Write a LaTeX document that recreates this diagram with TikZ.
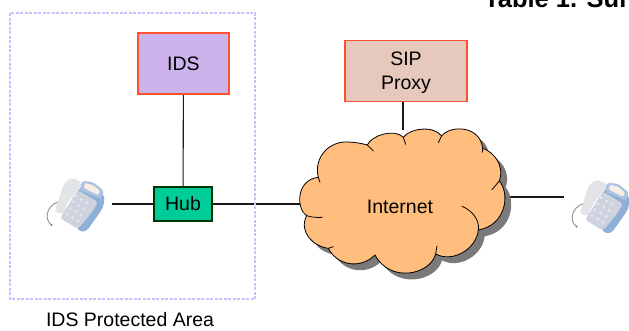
\documentclass[tikz,border=0pt]{standalone}
\usepackage{fontspec}
\setmainfont{Liberation Sans}
\usetikzlibrary{backgrounds}
\definecolor{idsfill}{HTML}{CCB3EC}
\definecolor{sipfill}{HTML}{E6C8BC}
\definecolor{hubfill}{HTML}{00CC99}
\definecolor{redline}{HTML}{FF5030}
\definecolor{cloudfill}{HTML}{FFBE7D}
\definecolor{arealine}{HTML}{C4C4FF}
\definecolor{phoneblue}{HTML}{8FAFD6}
\definecolor{phonebody}{HTML}{CED3DF}
\definecolor{phonelight}{HTML}{E2E4E8}
\tikzset{
  device/.style={draw=redline,line width=1.3pt,align=center,font=\fontsize{19.5}{24}\selectfont,inner sep=0pt},
  conn/.style={draw=black!90,line width=1.1pt},
  cloudedge/.style={line width=0.8pt,line cap=round},
  phone/.pic={
    % body with blue edge
    \fill[phoneblue,rounded corners=4pt] (86,-2) -- (105,14) -- (103,26) -- (86,50) -- (78,49) -- (70,20) -- cycle;
    \fill[phonebody,rounded corners=3pt] (78,8) -- (98,20) -- (92,30) -- (78,47) -- (60,36) -- cycle;
    % display
    \fill[phoneblue!75,rounded corners=2pt] (82,-1) -- (93,0) -- (104,9) -- (101,17) -- (80,8) -- cycle;
    \fill[phonelight!70!orange!30!white,rounded corners=1pt] (85,1) -- (93,3) -- (100,9) -- (98,13) -- (84,6) -- cycle;
    % keypad
    \foreach \k in {0,1,2}{\foreach \j in {0,1,2,3}{
      \fill[white!85!gray] ({76+\k*5.5-\j*3},{14+\k*3.4+\j*6}) circle (1.4);}}
    % handset
    \fill[phonelight,rounded corners=5pt] (78,-3) .. controls (68,-4) and (63,2) .. (60,14) .. controls (57,22) and (55,29) .. (59,33) -- (66,30) .. controls (66,22) and (74,12) .. (83,3) -- cycle;
    % cord
    \draw[gray!80,line width=1pt] (58,20) .. controls (46,24) and (44,38) .. (51.7,43);
    \fill[black!60] (51.7,43) circle (1);
  }
}
\begin{document}
\begin{tikzpicture}[x=1pt,y=-1pt]
\useasboundingbox (0,0) rectangle (629,330);
\clip (0,0) rectangle (629,330);
\draw[arealine,line width=1.2pt,dash pattern=on 3pt off 1.5pt] (10,13) rectangle (255,299);
\node[device,fill=idsfill,minimum width=91pt,minimum height=61pt] (ids) at (183.5,63.5) {IDS};
\node[device,fill=sipfill,minimum width=122pt,minimum height=61pt] (sip) at (406,71) {\rule{0pt}{18pt}SIP\\Proxy};
\node[draw=black!80!green,line width=1.1pt,fill=hubfill,minimum width=58pt,minimum height=34pt,inner sep=0pt,font=\fontsize{19.5}{22}\selectfont] (hub) at (183,204) {Hub};
\def\cloudpath{(85,232) .. controls (70,170) and (120,122) .. (175,126)
  .. controls (195,127) and (215,130) .. (232,135)
  .. controls (245,105) and (315,85) .. (340,112)
  .. controls (360,85) and (430,75) .. (455,108)
  .. controls (480,75) and (570,75) .. (578,145)
  .. controls (610,155) and (645,195) .. (628,243)
  .. controls (660,280) and (650,375) .. (565,390)
  .. controls (560,445) and (490,490) .. (437,462)
  .. controls (420,525) and (300,550) .. (255,465)
  .. controls (210,510) and (140,495) .. (115,445)
  .. controls (70,440) and (25,395) .. (50,347)
  .. controls (20,330) and (15,240) .. (85,232) -- cycle}
\begin{scope}[shift={(290,100)},scale=0.3333]
  \fill[black!52,shift={(19,19)}] \cloudpath;
  \filldraw[fill=cloudfill,draw=black,cloudedge] \cloudpath;
  \draw[cloudedge] (85,232) -- (90,247);
  \draw[cloudedge] (232,135) -- (250,153);
  \draw[cloudedge] (340,112) -- (347,133);
  \draw[cloudedge] (455,108) -- (445,128);
  \draw[cloudedge] (578,145) -- (577,157);
  \draw[cloudedge] (628,243) -- (606,269);
  \draw[cloudedge] (516,319) .. controls (545,330) and (570,360) .. (565,390);
  \draw[cloudedge] (437,462) -- (441,438);
  \draw[cloudedge] (115,445) -- (130,440);
  \draw[cloudedge] (50,347) .. controls (65,352) and (80,353) .. (97,352);
\end{scope}
\node[font=\fontsize{19.5}{22}\selectfont,inner sep=0pt] (internet) at (400,207) {Internet};
\pic at (0,182) {phone};
\pic at (525,183.7) {phone};
\coordinate (phoneL) at (112,204);
\coordinate (phoneR) at (564,197);
\begin{scope}[on background layer]
  \draw[conn] (ids) -- (hub);
  \draw[conn] (phoneL) -- (hub);
  \draw[conn] (hub) -- (hub -| internet);
  \draw[conn] (sip.south -| 403,0) -- (403,130);
  \draw[conn] (phoneR) -- (phoneR -| internet);
\end{scope}
\node[font=\fontsize{19.5}{22}\selectfont,inner sep=0pt] (area) at (130,320) {IDS Protected Area};
\node[anchor=base west,font=\bfseries\fontsize{25.5}{28}\selectfont,inner sep=0pt] (title) at (484,7) {Table 1. Sur};
\end{tikzpicture}
\end{document}
